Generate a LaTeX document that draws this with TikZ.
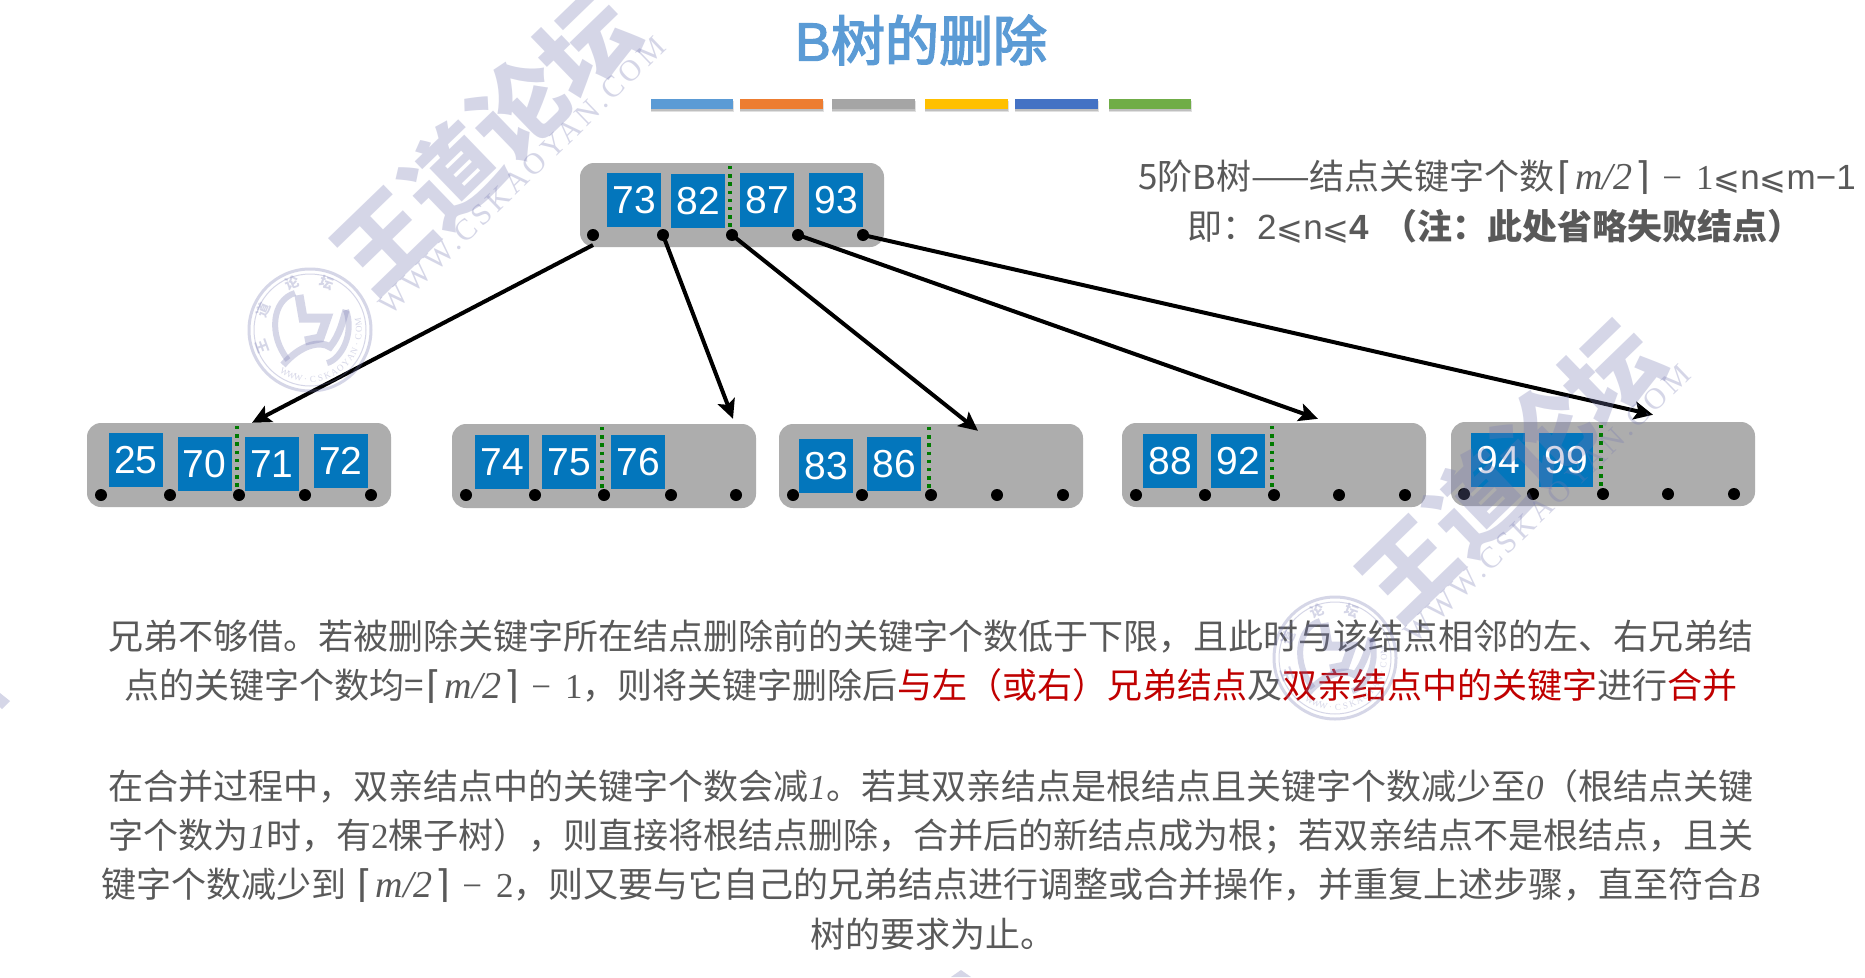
\documentclass[tikz,border=0pt]{standalone}
\usepackage{fontspec}
\setmainfont{Noto Sans CJK SC}
\newfontfamily\latf{Liberation Sans}
\newfontfamily\serf{Liberation Serif}
\newfontfamily\wmserf[LetterSpace=12.5]{Liberation Serif}
\newfontfamily\dejaf{DejaVu Sans}
\newfontfamily\titlef[FakeBold=3]{Noto Sans CJK SC}
\newfontfamily\titleb[FakeBold=2]{Liberation Sans}
\usetikzlibrary{arrows.meta}
\definecolor{txtg}{HTML}{595959}
\definecolor{redt}{HTML}{C00000}
\definecolor{keyblue}{HTML}{0376BC}
\definecolor{nodegray}{HTML}{ADADAD}
\definecolor{dashgreen}{HTML}{007A00}
\definecolor{wmc}{HTML}{7679B2}
\definecolor{titleblue}{HTML}{5B9BD5}
\definecolor{c2}{HTML}{ED7D31}
\definecolor{c3}{HTML}{A5A5A5}
\definecolor{c4}{HTML}{FFC000}
\definecolor{c5}{HTML}{4472C4}
\definecolor{c6}{HTML}{70AD47}
\tikzset{
  x=1pt,y=-1pt,
  treenode/.style={fill=nodegray,rounded corners=14pt,minimum width=304pt,minimum height=84pt,inner sep=0pt,draw=none},
  keybox/.style={fill=keyblue,minimum width=54pt,minimum height=54pt,inner sep=0pt,text=white,font=\latf\fontsize{39}{39}\selectfont},
  dotn/.style={circle,fill=black,minimum size=12pt,inner sep=0pt},
  splitline/.style={draw=dashgreen,line width=3.4pt,dash pattern=on 3.3pt off 4.9pt},
  arr/.style={draw=black,line width=4pt,-{Stealth[length=19pt,width=18pt,inset=4pt]}},
  bodyt/.style={inner sep=0pt,text=txtg,font=\fontsize{35}{40}\selectfont},
  bar/.style={minimum height=10pt,inner sep=0pt},
}
\newcommand\rd[1]{\textcolor{redt}{#1}}
\newcommand\itl[1]{{\serf\itshape #1}}
\newcommand\ceilm{\hspace{3pt}{\dejaf\fontsize{38}{38}\selectfont ⌈}\hspace{3pt}{\serf\itshape\fontsize{38}{38}\selectfont m/2}\hspace{3pt}{\dejaf\fontsize{38}{38}\selectfont ⌉}\hspace{12pt}}
\newcommand\minusn[1]{{\serf −\hspace{14pt}#1}}
\newcommand\leqs{{\dejaf\fontsize{32}{32}\selectfont ⩽}}
\newcommand\dotrow[3]{\foreach \xx [count=\iI] in {#3} {\node[dotn] (#1\iI) at (\xx,#2) {};}}
\newcommand\cbar[4]{%
  \fill[black!12] (#2,#3+2) rectangle (#2+#4+1,#3+13);
  \fill[black!25] (#2,#3+2) rectangle (#2+#4,#3+12);
  \node[bar,fill=#1,minimum width=#4 pt,anchor=north west] (bar#1) at (#2,#3) {};}
\newcommand\wmark[3]{%
\begin{scope}[shift={(#2,#3)},opacity=.3]
  \node[text=wmc,rotate=44,inner sep=0pt,font=\bfseries\fontsize{94}{94}\selectfont] (wm#1a) at (485,142) {王道论坛};
  \node[text=wmc,rotate=44,inner sep=0pt,font=\wmserf\fontsize{30}{30}\selectfont] (wm#1b) at (522,176) {WWW.CSKAOYAN.COM};
  \begin{scope}[shift={(310,330)}]
    \draw[wmc,line width=3pt] (0,0) circle (61);
    \draw[wmc,line width=1pt] (0,0) circle (56);
    \draw[wmc,line width=6pt] (-15,-37) .. controls (-38,-30) and (-42,5) .. (-22,30);
    \draw[wmc,line width=6pt] (36,-20) .. controls (45,5) and (30,30) .. (17,33);
    \draw[wmc,line width=7pt] (-27,35) .. controls (-10,15) and (10,10) .. (20,17) .. controls (30,5) and (33,-10) .. (36,-20);
    \draw[wmc,line width=9pt] (-11,-35) -- (-7,-12) -- (17,-12) -- (10,8) -- (-5,11);
    \node[text=wmc,rotate=110,inner sep=0pt,font=\bfseries\fontsize{14}{14}\selectfont] (wm#1c) at (-48,17) {王};
    \node[text=wmc,rotate=67,inner sep=0pt,font=\bfseries\fontsize{14}{14}\selectfont] (wm#1d) at (-47,-20) {道};
    \node[text=wmc,rotate=21,inner sep=0pt,font=\bfseries\fontsize{14}{14}\selectfont] (wm#1e) at (-18,-47) {论};
    \node[text=wmc,rotate=-20,inner sep=0pt,font=\bfseries\fontsize{14}{14}\selectfont] (wm#1f) at (17,-47) {坛};
    \foreach \cha [count=\kk] in {W,W,W,.,C,S,K,A,O,Y,A,N,.,C,O,M} {
      \pgfmathsetmacro\ang{-130+\kk*8.7}
      \node[text=wmc,rotate=\ang+90,inner sep=0pt,font=\serf\fontsize{9}{9}\selectfont] (wm#1u\kk) at ({49*cos(\ang)},{-49*sin(\ang)}) {\cha};
    }
  \end{scope}
\end{scope}}
\begin{document}
\begin{tikzpicture}
\useasboundingbox (0,0) rectangle (1865,977);
\fill[white] (0,0) rectangle (1865,977);
% title
\node[text=titleblue,inner sep=0pt,font=\titlef\fontsize{54}{54}\selectfont] (title) at (921,40) {{\titleb B}树的删除};
\cbar{titleblue}{651}{99}{82}
\cbar{c2}{740}{99}{83}
\cbar{c3}{832}{99}{83}
\cbar{c4}{925}{99}{83}
\cbar{c5}{1015}{99}{83}
\cbar{c6}{1109}{99}{82}
% tree nodes
\node[treenode] (root) at (732,205) {};
\node[treenode] (n1) at (239,465) {};
\node[treenode] (n2) at (604,466) {};
\node[treenode] (n3) at (931,466) {};
\node[treenode] (n4) at (1274,465) {};
\node[treenode] (n5) at (1603,464) {};
% keys
\node[keybox] (k73) at (634,200) {73};
\node[keybox] (k82) at (698,201) {82};
\node[keybox] (k87) at (767,200) {87};
\node[keybox] (k93) at (836,200) {93};
\node[keybox] (k25) at (136,460) {25};
\node[keybox] (k70) at (204.5,464) {70};
\node[keybox] (k71) at (272,464) {71};
\node[keybox] (k72) at (341,461) {72};
\node[keybox] (k74) at (502,462) {74};
\node[keybox] (k75) at (569,462) {75};
\node[keybox] (k76) at (638,462) {76};
\node[keybox] (k83) at (826,466) {83};
\node[keybox] (k86) at (894,464) {86};
\node[keybox] (k88) at (1170,461) {88};
\node[keybox] (k92) at (1238,461) {92};
\node[keybox] (k94) at (1498,460) {94};
\node[keybox] (k99) at (1566,460) {99};
% split lines
\draw[splitline] (730,166) -- (730,228);
\draw[splitline] (237,426) -- (237,488);
\draw[splitline] (602,427) -- (602,489);
\draw[splitline] (929,427) -- (929,489);
\draw[splitline] (1272,426) -- (1272,488);
\draw[splitline] (1601,425) -- (1601,487);
% pointers
\dotrow{r}{235}{593,663,732,798,863}
\dotrow{a}{495}{101,170,239,305,371}
\dotrow{b}{495}{466,535,604,671,736}
\dotrow{c}{495}{793,862,931,997,1063}
\dotrow{d}{495}{1136,1205,1274,1339,1405}
\dotrow{e}{494}{1464,1533,1603,1668,1734}
% connectors
\draw[arr] ([yshift=-10pt]r1.center) -- ([xshift=13pt]n1.north);
\draw[arr] (r2.center) -- ([xshift=129pt,yshift=5pt]n2.north);
\draw[arr] (r3.center) -- ([xshift=47pt,yshift=-7pt]n3.north);
\draw[arr] (r4.center) -- ([xshift=44pt,yshift=4pt]n4.north);
\draw[arr] (r5.center) -- ([xshift=50pt,yshift=7pt]n5.north);
% side text
\node[bodyt] (s1) at (1497,177) {5阶{\latf B}树——结点关键字个数\ceilm\minusn{1}\leqs{\latf n}\leqs{\latf m−1}};
\node[bodyt] (s2) at (1495,226) {即：{\latf 2}\leqs{\latf n}\leqs{\latf\bfseries 4}\hspace{6pt} \textbf{（注：此处省略失败结点）}};
% body
\node[bodyt] (p1) at (931,637) {兄弟不够借。若被删除关键字所在结点删除前的关键字个数低于下限，且此时与该结点相邻的左、右兄弟结};
\node[bodyt] (p2) at (931,686) {点的关键字个数均=\ceilm\minusn{1}，则将关键字删除后\rd{与左（或右）兄弟结点}及\rd{双亲结点中的关键字}进行\rd{合并}};
\node[bodyt] (p3) at (931,786) {在合并过程中，双亲结点中的关键字个数会减\itl{1}。若其双亲结点是根结点且关键字个数减少至\itl{0}（根结点关键};
\node[bodyt] (p4) at (931,836) {字个数为\itl{1}时，有{\serf 2}棵子树），则直接将根结点删除，合并后的新结点成为根；若双亲结点不是根结点，且关};
\node[bodyt] (p5) at (931,885) {键字个数减少到 \ceilm\minusn{2}，则又要与它自己的兄弟结点进行调整或合并操作，并重复上述步骤，直至符合\itl{B}};
\node[bodyt] (p6) at (933,934) {树的要求为止。};
% watermarks
\wmark{A}{0}{0}
\wmark{B}{1025}{328}
\fill[wmc,opacity=.3] (0,693) -- (10,701) -- (2,709) -- (0,707) -- cycle;
\fill[wmc,opacity=.3] (961,970) -- (951,977) -- (971,977) -- cycle;
\end{tikzpicture}
\end{document}
